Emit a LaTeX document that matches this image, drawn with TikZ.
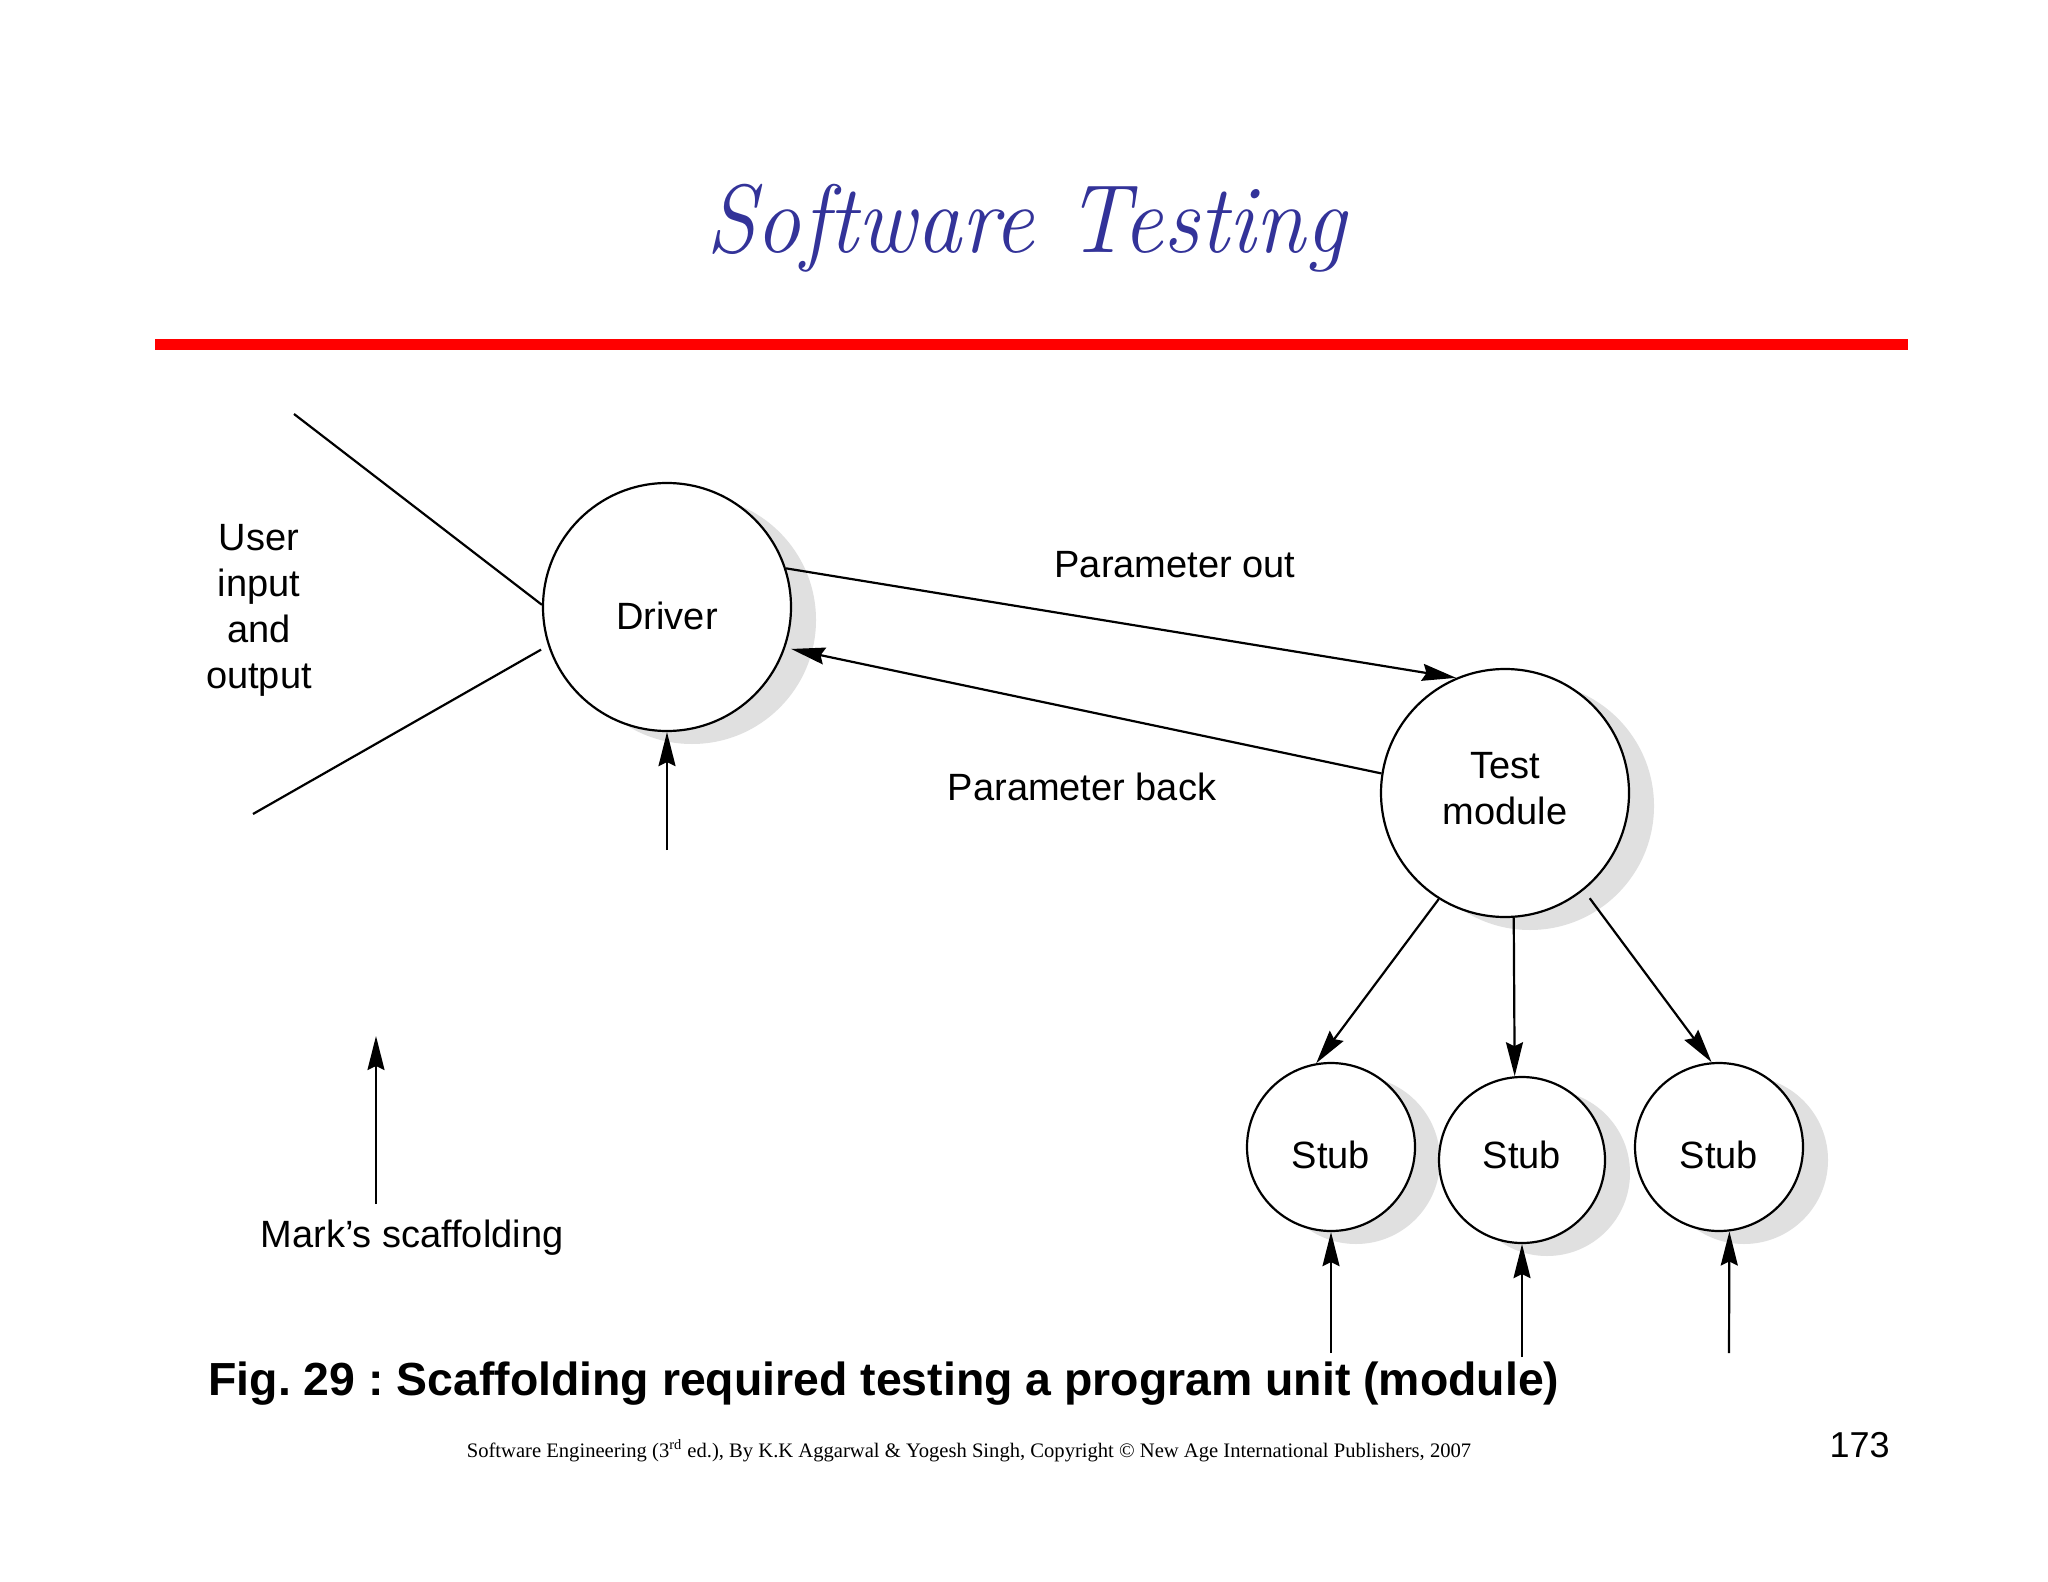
\documentclass[tikz,border=0pt]{standalone}
\usepackage{fontspec}
\usepackage{graphicx}
\newfontfamily\arialfont{Liberation Sans}
\newfontfamily\serifbody{Liberation Serif}
\usetikzlibrary{arrows.meta,shadows}
\definecolor{titleblue}{RGB}{51,51,153}
\definecolor{shadowgray}{RGB}{224,224,224}
\frenchspacing
\begin{document}
\begin{tikzpicture}[x=0.5pt,y=-0.5pt,
  every node/.style={font=\arialfont\fontsize{19}{23}\selectfont},
  bubble/.style={circle,draw,fill=white,line width=1.1pt,inner sep=0pt,
     drop shadow={shadow xshift=12.5pt,shadow yshift=-6.5pt,fill=shadowgray,opacity=1}},
  conn/.style={line width=1.1pt},
  arr/.style={conn,-{Stealth[length=17pt,width=8.5pt,inset=2pt]}}]
\fill[white] (0,0) rectangle (2048,1582);
\useasboundingbox (0,0) rectangle (2048,1582);

% title and rule
\node[font=\fontsize{48.5}{52}\selectfont\itshape, text=titleblue, anchor=base] (title) at (1026,253) {\scalebox{0.93}[1]{Software Testing}};
\draw[red, line width=5.5pt] (155,345) -- (1908,345);

% bubbles
\node[bubble,minimum size=124pt,label={[yshift=-4.5pt]center:Driver}] (drv) at (667,607) {};
\node[bubble,minimum size=124pt,label={[align=center,yshift=2pt]center:Test\\module}] (tm) at (1505,793) {};
\node[bubble,minimum size=84pt,label={[yshift=-4pt]center:Stub}] (s1) at (1331,1147) {};
\node[bubble,minimum size=83pt,label={[yshift=2.5pt]center:Stub}] (s2) at (1522,1160) {};
\node[bubble,minimum size=84pt,label={[yshift=-4pt]center:Stub}] (s3) at (1719,1147) {};

% labels
\node[align=center] (uio) at (259,610) {User\\input\\and\\output};
\node (pout) at (1175,565) {Parameter out};
\node (pback) at (1082,787) {Parameter back};
\node (mark) at (412,1238) {Mark’s scaffolding};

% free ends
\coordinate (u1) at (294,414);
\coordinate (u2) at (253,814);
\coordinate (d0) at (667,850);
\coordinate (c1) at (1331,1353);
\coordinate (c2) at (1522,1357);
\coordinate (c3) at (1729,1353);
\coordinate (m0) at (376,1204);
\coordinate (m1) at (376,1036);

% connectors
\draw[conn] (u1) -- (drv.179);
\draw[conn,shorten >=4pt] (u2) -- (drv.198);
\draw[arr] (d0) -- (drv.south);
\draw[arr] (drv.18.7) -- (tm.113);
\draw[arr,shorten >=3pt] (tm.171.7) -- (drv.-19);
\draw[arr] (tm.-122.7) -- (s1.100);
\draw[arr] (tm.-86) -- (s2.95);
\draw[arr,shorten <=5pt] (tm.-51.7) -- (s3.95.3);
\draw[arr] (c1) -- (s1.south);
\draw[arr] (c2) -- (s2.south);
\draw[arr] (c3) -- (s3.-83.4);
\draw[arr] (m0) -- (m1);

% caption and footer
\node[font=\arialfont\bfseries\fontsize{23.2}{28}\selectfont, anchor=base west, inner sep=0pt] (cap) at (208,1395) {Fig. 29 : Scaffolding required testing a program unit (module)};
\node[font=\serifbody\fontsize{10.3}{12}\selectfont, anchor=base, inner sep=0pt] (foot) at (969,1457) {Software Engineering (3\textsuperscript{rd} ed.), By K.K Aggarwal \& Yogesh Singh, Copyright © New Age International Publishers, 2007};
\node[font=\arialfont\fontsize{18}{20}\selectfont, anchor=base east, inner sep=0pt] (pg) at (1890,1457) {173};
\end{tikzpicture}
\end{document}
